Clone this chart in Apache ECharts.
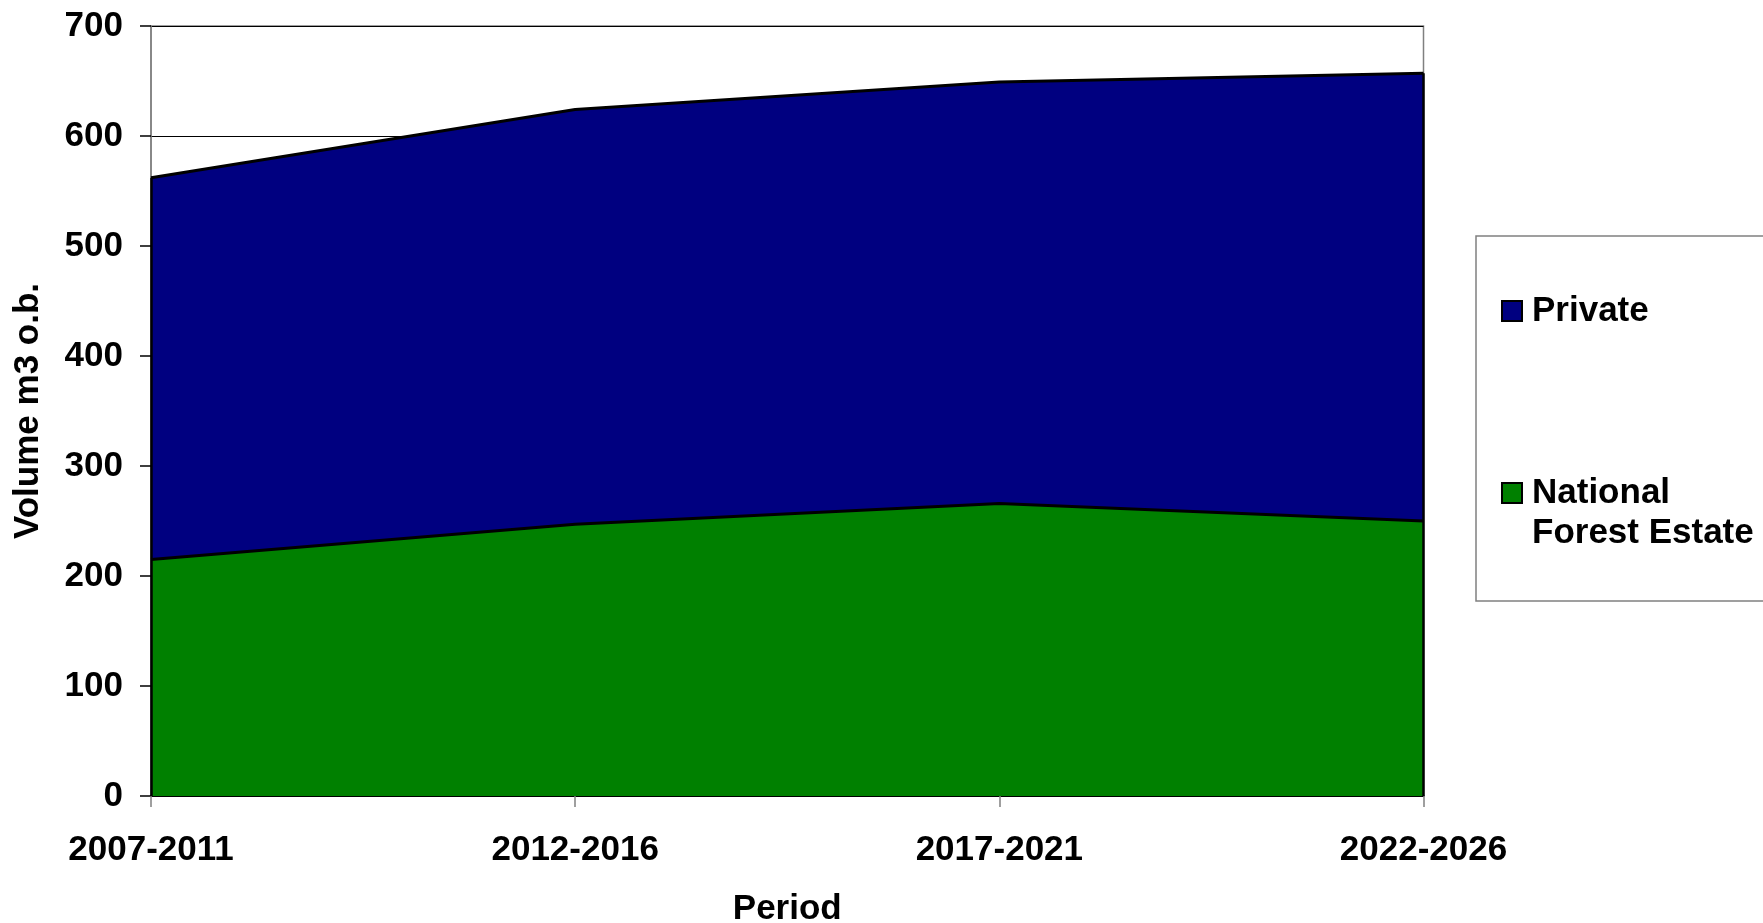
<!DOCTYPE html>
<html>
<head>
<meta charset="utf-8">
<script src="https://cdn.jsdelivr.net/npm/echarts@6/dist/echarts.min.js"></script>
<style>
  html, body { margin: 0; padding: 0; background: #fff; }
  #chart { width: 1763px; height: 923px; }
</style>
</head>
<body>
<div id="chart"></div>
<script>
// Harvest volume forecast by period (m3 o.b.)
const periods = ['2007-2011', '2012-2016', '2017-2021', '2022-2026'];
const nationalForestEstate = [215, 247, 266, 250];
const privateForest = [347, 377, 383, 407];
const yTicks = [0, 100, 200, 300, 400, 500, 600, 700];

const FONT = '"Liberation Sans", Arial, sans-serif';
const NFE_NAME = 'National\nForest Estate';
const totals = periods.map((_, i) => nationalForestEstate[i] + privateForest[i]);
const last = periods.length - 1;

const chart = echarts.init(document.getElementById('chart'), null, { renderer: 'canvas' });

// Two-line legend label: an invisible spacer line above keeps "National" level with the swatch
function legendLabel(name) {
  if (name !== NFE_NAME) return '{t|' + name + '}';
  return '{g|.}\n' + name.split('\n').map(s => '{t|' + s + '}').join('\n');
}

chart.setOption({
  animation: false,
  backgroundColor: '#ffffff',
  grid: {
    left: 151,
    right: 339.5,
    top: 26,
    bottom: 127,
    show: true,
    borderColor: '#808080',
    borderWidth: 1.5,
    outerBoundsMode: 'none'
  },
  legend: {
    orient: 'vertical',
    left: 1476,
    top: 236,
    padding: [55, 40, 48, 25],
    borderColor: '#808080',
    borderWidth: 1.5,
    backgroundColor: '#ffffff',
    itemWidth: 20,
    itemHeight: 20,
    itemGap: 102,
    icon: 'rect',
    itemStyle: { borderColor: '#000', borderWidth: 2 },
    formatter: legendLabel,
    textStyle: {
      fontFamily: FONT,
      fontWeight: 'bold',
      fontSize: 35,
      lineHeight: 40,
      color: '#000',
      rich: {
        t: { fontFamily: FONT, fontWeight: 'bold', fontSize: 35, lineHeight: 40, color: '#000', padding: [0, 0, 0, 5] },
        g: { fontFamily: FONT, fontSize: 35, lineHeight: 40, color: 'rgba(0,0,0,0)' }
      }
    },
    data: ['Private', NFE_NAME],
    selectedMode: false
  },
  xAxis: {
    type: 'category',
    data: periods,
    boundaryGap: false,
    name: 'Period',
    nameLocation: 'middle',
    nameGap: 96,
    nameTextStyle: { fontFamily: FONT, fontWeight: 'bold', fontSize: 35, color: '#000' },
    axisLine: { show: true, lineStyle: { color: '#000', width: 2 } },
    axisTick: { show: true, alignWithLabel: true, length: 11, lineStyle: { color: '#808080', width: 1.5 } },
    axisLabel: { fontFamily: FONT, fontWeight: 'bold', fontSize: 35, color: '#000', margin: 37 },
    splitLine: { show: false }
  },
  yAxis: {
    type: 'value',
    min: 0,
    max: 700,
    interval: 100,
    name: 'Volume m3 o.b.',
    nameLocation: 'middle',
    nameGap: 105,
    nameTextStyle: { fontFamily: FONT, fontWeight: 'bold', fontSize: 35, color: '#000' },
    axisLine: { show: true, lineStyle: { color: '#808080', width: 1.5 } },
    axisTick: { show: true, length: 11, lineStyle: { color: '#000', width: 1.5 } },
    axisLabel: {
      fontFamily: FONT, fontWeight: 'bold', fontSize: 35, color: '#000', margin: 28,
      formatter: v => (yTicks.indexOf(v) >= 0 ? String(v) : '')
    },
    splitLine: { show: true, lineStyle: { color: '#000', width: 1.2 } }
  },
  series: [
    {
      name: NFE_NAME,
      type: 'line',
      stack: 'volume',
      data: nationalForestEstate,
      symbol: 'none',
      lineStyle: { color: '#000', width: 3 },
      itemStyle: { color: '#008000' },
      areaStyle: { color: '#008000', opacity: 1 },
      z: 3
    },
    {
      name: 'Private',
      type: 'line',
      stack: 'volume',
      data: privateForest,
      symbol: 'none',
      lineStyle: { color: '#000', width: 3 },
      itemStyle: { color: '#000080' },
      areaStyle: { color: '#000080', opacity: 1 },
      z: 2,
      // dark outline along the left and right edges of the filled area
      markLine: {
        silent: true,
        symbol: 'none',
        label: { show: false },
        lineStyle: { color: '#000', width: 2.5, type: 'solid' },
        data: [
          [{ coord: [periods[0], 0] }, { coord: [periods[0], totals[0]] }],
          [{ coord: [periods[last], 0] }, { coord: [periods[last], totals[last]] }]
        ]
      }
    }
  ]
});
</script>
</body>
</html>
